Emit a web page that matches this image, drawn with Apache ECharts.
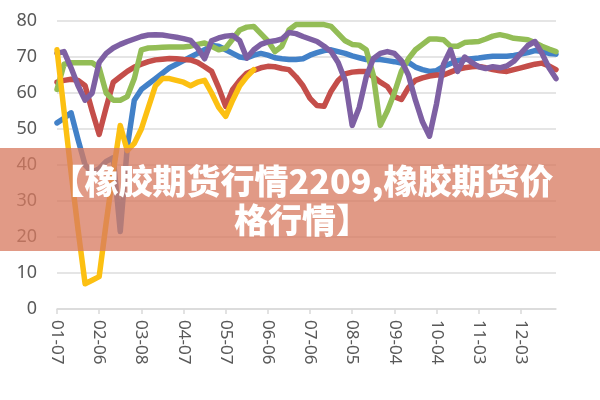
<!DOCTYPE html>
<html lang="zh">
<head>
    <meta charset="UTF-8">
    <title>橡胶期货行情</title>
    <script src="https://cdn.jsdelivr.net/npm/echarts@6/dist/echarts.min.js"></script>
    <style>
        html, body { margin: 0; padding: 0; background: #fff; }
        #chart { width: 600px; height: 400px; }
    </style>
</head>
<body>
    <div id="chart"></div>
    <script>
        // 日期（每5天一个点）
        const dates = [
            '01-07','01-12','01-17','01-22','01-27','02-01','02-06','02-11','02-16','02-21','02-26','03-03',
            '03-08','03-13','03-18','03-23','03-28','04-02','04-07','04-12','04-17','04-22','04-27','05-02',
            '05-07','05-12','05-17','05-22','05-27','06-01','06-06','06-11','06-16','06-21','06-26','07-01',
            '07-06','07-11','07-16','07-21','07-26','07-31','08-05','08-10','08-15','08-20','08-25','08-30',
            '09-04','09-09','09-14','09-19','09-24','09-29','10-04','10-09','10-14','10-19','10-24','10-29',
            '11-03','11-08','11-13','11-18','11-23','11-28','12-03','12-08','12-13','12-18','12-23','12-28'
        ];

        const blueVals = [
            51.7, 53, 54.5, 47, 40, 38, 39, 41, 42, 21.5, 45, 58,
            61, 62.5, 64, 65.5, 67, 68, 69, 70, 71, 72, 73.2, 73,
            72, 71, 70, 69.7, 70.5, 71, 70.5, 69.8, 69.5, 69.3, 69.3, 69.5,
            70.5, 71.2, 71.8, 72, 71.5, 71, 70.3, 69.8, 69.3, 69.3, 69.3, 69,
            68.7, 68.3, 68.5, 67.2, 66.5, 66, 66.2, 67.4, 68.2, 69, 69.3, 69.5,
            69.7, 70, 70.2, 70.2, 70.2, 70.4, 70.8, 71.2, 71.8, 71.5, 71, 70.8
        ];
        const redVals = [
            63, 63.5, 63.8, 63.5, 62, 55, 48.5, 56, 63, 64.5, 66, 67.2,
            68, 68.7, 69.2, 69.4, 69.6, 69.5, 69.3, 69.2, 68.5, 67.3, 66, 61.5,
            56.3, 61, 63.5, 65.5, 66.3, 67, 67.4, 67.3, 66.8, 66.5, 64.5, 62,
            58.5, 56.5, 56.3, 60.5, 63.5, 65.3, 65.8, 66, 66, 64.5, 63, 61.8,
            59, 58.2, 61.5, 63.5, 64.2, 64.7, 65, 65, 65.8, 66.6, 67, 67.3,
            67.4, 67, 66.5, 66.2, 66, 66.5, 67, 67.5, 68, 68.3, 67.5, 66.5
        ];
        const greenVals = [
            61, 68, 68.4, 68.4, 68.4, 68.4, 67, 60, 58, 58, 59, 64,
            72, 72.5, 72.6, 72.7, 72.8, 72.8, 72.8, 73, 73.5, 73.9, 73, 72,
            72.5, 75, 77.5, 78.3, 78.5, 76.5, 74.5, 71.5, 73, 77.5, 79, 79,
            79, 79, 79, 78.5, 76.5, 74.5, 73.5, 73.3, 72, 65, 51, 55,
            60, 66, 69.5, 72, 73.5, 75, 75, 74.8, 73, 73, 74, 74.2,
            74.3, 75, 75.8, 76.2, 75.8, 75.2, 75, 74.8, 74, 73, 72.2, 71.5
        ];
        const purpleVals = [
            71, 71.5, 67, 62, 58, 60, 68.5, 71, 72.5, 73.5, 74.3, 75,
            75.7, 76.1, 76.2, 76.1, 75.8, 75.5, 75.1, 74.6, 72.5, 69.5, 74.5, 75.3,
            75.8, 76, 74.5, 69.7, 72, 73.5, 74.2, 74.5, 75, 76.8, 76.5, 75.7,
            75, 74.3, 73, 71.5, 68.5, 63.5, 51, 56, 64.5, 69.5, 71, 71.5,
            71, 69, 65, 58, 52, 48, 57, 68, 72, 66, 70, 68.5,
            67.3, 66.8, 67.3, 67, 67.5, 68.8, 71, 73.2, 74.3, 71, 67, 64
        ];
        // 黄线只到六月初
        const yellowVals = [
            72, 55, 38, 22, 7, 8, 9, 24, 38, 51, 44, 46,
            50, 56, 62, 64, 64, 63.5, 63, 62, 63, 63.5, 60, 56,
            53.5, 58, 62, 64.5, 66.5
        ];

        const yTicks = [0, 80, 10]; // min, max, interval
        const title = '【橡胶期货行情2209,橡胶期货价\n格行情】';

        const chart = echarts.init(document.getElementById('chart'));

        function line(name, data, color) {
            return {
                name: name,
                type: 'line',
                data: data,
                symbol: 'none',
                lineStyle: { color: color, width: 5.5, join: 'round', cap: 'round' },
                itemStyle: { color: color }
            };
        }

        const option = {
            animation: false,
            grid: { left: 57, right: 44, top: 21, bottom: 91 },
            xAxis: {
                type: 'category',
                data: dates,
                boundaryGap: false,
                axisLine: { lineStyle: { color: '#d9d9d9', width: 1.5 } },
                axisTick: { interval: 5, length: 5, lineStyle: { color: '#d9d9d9', width: 1.5 } },
                axisLabel: {
                    interval: 5,
                    rotate: -90,
                    color: '#595959',
                    fontSize: 17,
                    fontFamily: 'Noto Sans',
                    margin: 11
                }
            },
            yAxis: {
                type: 'value',
                min: yTicks[0],
                max: yTicks[1],
                interval: yTicks[2],
                axisLine: { show: false },
                axisTick: { show: false },
                splitLine: { lineStyle: { color: '#dcdcdc', width: 1.5 } },
                axisLabel: { color: '#595959', fontSize: 18, fontFamily: 'Noto Sans', margin: 20 }
            },
            series: [
                line('蓝', blueVals, '#4281c8'),
                line('红', redVals, '#c44e4a'),
                line('绿', greenVals, '#93bd56'),
                line('紫', purpleVals, '#7e60a3'),
                line('黄', yellowVals, '#fcc012')
            ],
            graphic: [
                {
                    type: 'rect',
                    z: 100,
                    shape: { x: 0, y: 148, width: 600, height: 103 },
                    style: { fill: 'rgba(216,122,96,0.76)' }
                },
                {
                    type: 'text',
                    z: 101,
                    x: 302,
                    y: 201,
                    style: {
                        text: title,
                        fill: '#fff',
                        font: '900 34px "Noto Sans CJK SC"',
                        align: 'center',
                        verticalAlign: 'middle',
                        lineHeight: 39
                    }
                }
            ]
        };

        chart.setOption(option);
    </script>
</body>
</html>
